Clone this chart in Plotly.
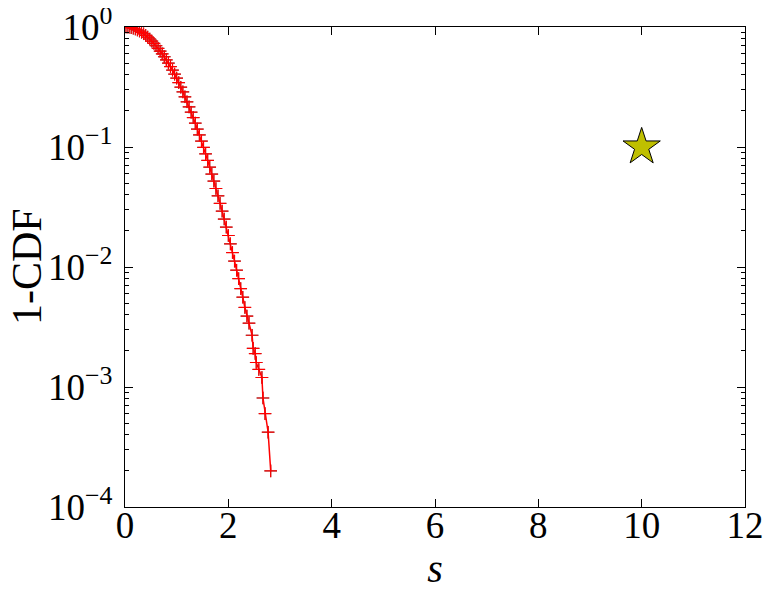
import plotly.graph_objects as go

s_vals = [0.00, 0.04, 0.08, 0.12, 0.16, 0.20, 0.24, 0.28, 0.32, 0.36,
          0.40, 0.44, 0.48, 0.52, 0.56, 0.60, 0.64, 0.68, 0.72, 0.76,
          0.80, 0.84, 0.88, 0.92, 0.96, 1.00, 1.04, 1.08, 1.12, 1.16,
          1.20, 1.24, 1.28, 1.32, 1.36, 1.40, 1.44, 1.48, 1.52, 1.56,
          1.60, 1.64, 1.68, 1.72, 1.76, 1.80, 1.84, 1.88, 1.92, 1.96,
          2.00, 2.04, 2.08, 2.12, 2.16, 2.20, 2.24, 2.28, 2.32, 2.36,
          2.40, 2.46, 2.48, 2.52, 2.54, 2.59, 2.65, 2.67, 2.71, 2.77, 2.82]
ccdf_vals = [1.000, 0.998, 0.994, 0.986, 0.975, 0.961, 0.944, 0.925, 0.903, 0.878,
             0.852, 0.824, 0.794, 0.763, 0.731, 0.698, 0.664, 0.630, 0.597, 0.565,
             0.532, 0.500, 0.468, 0.437, 0.405, 0.375, 0.344, 0.315, 0.288, 0.262,
             0.238, 0.216, 0.195, 0.176, 0.158, 0.141, 0.126, 0.112, 0.0993, 0.0877,
             0.0773, 0.0679, 0.0595, 0.0520, 0.0451, 0.0392, 0.0339, 0.0292, 0.0251, 0.0215,
             0.0183, 0.0156, 0.0132, 0.0112, 0.0094, 0.0080, 0.0066, 0.0056, 0.0046, 0.0039,
             0.0034, 0.0027, 0.0021, 0.0019, 0.0016, 0.0014, 0.0012, 0.00081, 0.00060, 0.00042, 0.00020]

star_s = [10]
star_y = [0.1]

y_tickvals = [1e-4, 1e-3, 1e-2, 1e-1, 1]
y_ticktext = ["10<sup>\u22124</sup>", "10<sup>\u22123</sup>", "10<sup>\u22122</sup>",
              "10<sup>\u22121</sup>", "10<sup>0</sup>"]
y_minor = [m * 10.0 ** e for e in range(-4, 0) for m in range(2, 10)]
x_tickvals = [0, 2, 4, 6, 8, 10, 12]

FONT = "Liberation Serif, Times New Roman, serif"

fig = go.Figure()
fig.add_trace(go.Scatter(
    x=s_vals, y=ccdf_vals, mode="markers",
    marker=dict(symbol="cross-thin", size=9, line=dict(color="#444444", width=1)),
    showlegend=False, hoverinfo="skip"))
fig.add_trace(go.Scatter(
    x=s_vals, y=ccdf_vals, mode="lines+markers",
    line=dict(color="red", width=1.5),
    marker=dict(symbol="cross-thin", size=9, color="red", line=dict(color="red", width=1.2)),
    showlegend=False))
fig.add_trace(go.Scatter(
    x=star_s, y=star_y, mode="markers",
    marker=dict(symbol="star", size=28, color="#bfbf00", line=dict(color="black", width=1)),
    showlegend=False))

axis_common = dict(
    showline=True, linecolor="black", linewidth=1.2, mirror="allticks",
    ticks="inside", ticklen=8, tickwidth=1, tickcolor="black",
    showgrid=False, zeroline=False, automargin=False,
    ticklabeloverflow="allow",
    tickfont=dict(family=FONT, size=37, color="black"),
)

fig.update_xaxes(range=[0, 12], tickvals=x_tickvals, ticklabelstandoff=-15,
                 title=dict(text="<i>s</i>", font=dict(family=FONT, size=40, color="black"), standoff=6),
                 **axis_common)
fig.update_yaxes(type="log", range=[-4, 0], tickvals=y_tickvals, ticktext=y_ticktext,
                 ticklabelstandoff=4,
                 minor=dict(ticks="inside", ticklen=4, tickcolor="black", tickwidth=1,
                            tickvals=y_minor, showgrid=False),
                 **axis_common)

fig.add_annotation(text="1-CDF", xref="paper", yref="paper", x=-0.158, y=0.5,
                   xanchor="center", yanchor="middle", textangle=-90, showarrow=False,
                   font=dict(family=FONT, size=42, color="black"))

# page body has an 8px margin, so the figure is shrunk and margins shifted to match
fig.update_layout(
    width=765, height=590,
    margin=dict(l=117, r=28, t=19, b=91, autoexpand=False),
    plot_bgcolor="white", paper_bgcolor="white",
    font=dict(family=FONT, color="black"),
)

fig.write_html("out.html")
